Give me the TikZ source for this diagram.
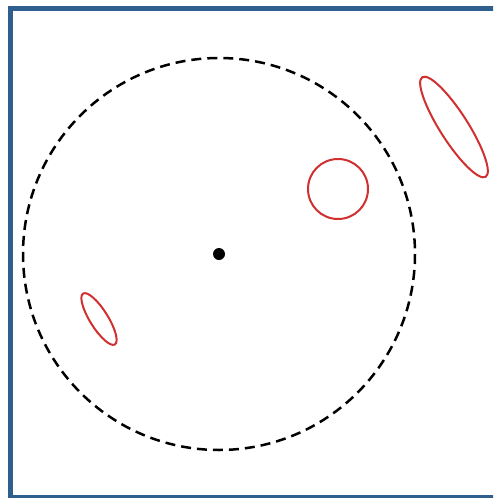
\documentclass[tikz,border=0pt]{standalone}
\usepackage{tikz}
\usetikzlibrary{positioning,calc}

\begin{document}
\begin{tikzpicture}[x=1pt,y=-1pt,
  frameline/.style={draw={rgb,255:red,47;green,95;blue,142},line width=5pt},
  region/.style={draw={rgb,255:red,208;green,48;blue,48},line width=2pt},
  bigcircle/.style={draw=black,line width=2.5pt,dash pattern=on 10pt off 6pt}]
\useasboundingbox (0,0) rectangle (493,498);
\clip (0,0) rectangle (493,498);
\draw[frameline] (10.5,8.5) rectangle (505,497);
\coordinate (o) at (219,254);
\draw[bigcircle] (o) circle[radius=196];
\fill (o) circle[radius=6];
\draw[region] (338,189) circle[radius=30];
\draw[region,rotate around={-57.5:(454,127)}] (454,127) ellipse[x radius=59,y radius=14];
\draw[region,rotate around={-58:(99,319)}] (99,319) ellipse[x radius=30,y radius=9];
\end{tikzpicture}
\end{document}
